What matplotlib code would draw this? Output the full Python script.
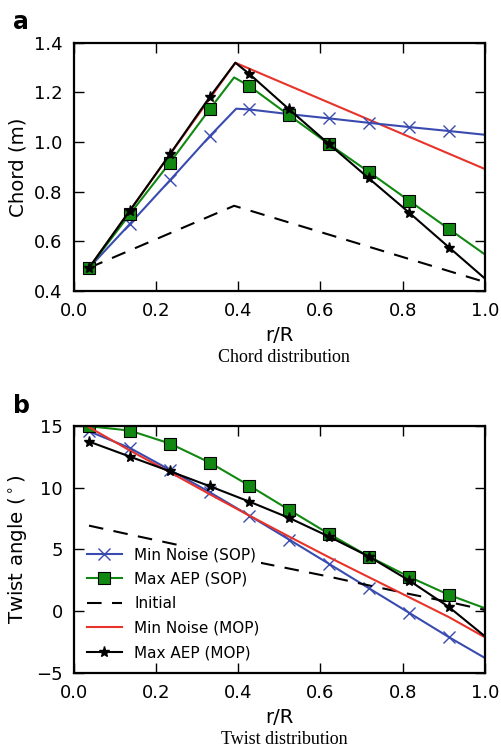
import matplotlib
matplotlib.use("Agg")
import matplotlib.pyplot as plt

# ---------------- data ----------------
r_mark = [0.037, 0.136, 0.234, 0.331, 0.427, 0.524, 0.621, 0.718, 0.816, 0.913]

# chord (m): line knots (root, markers, peak, tip)
chord_minnoise_sop_x = [0.037, 0.136, 0.234, 0.331, 0.395, 0.427, 0.524, 0.621, 0.718, 0.816, 0.913, 1.0]
chord_minnoise_sop = [0.493, 0.669, 0.846, 1.024, 1.134, 1.131, 1.112, 1.095, 1.077, 1.060, 1.044, 1.029]
chord_maxaep_sop_x = [0.037, 0.136, 0.234, 0.331, 0.390, 0.427, 0.524, 0.621, 0.718, 0.816, 0.913, 1.0]
chord_maxaep_sop = [0.493, 0.709, 0.917, 1.133, 1.260, 1.225, 1.107, 0.991, 0.879, 0.763, 0.649, 0.547]
chord_initial_x = [0.037, 0.390, 1.0]
chord_initial = [0.493, 0.743, 0.436]
chord_minnoise_mop_x = [0.037, 0.393, 1.0]
chord_minnoise_mop = [0.493, 1.319, 0.891]
chord_maxaep_mop_x = [0.037, 0.136, 0.234, 0.331, 0.393, 0.427, 0.524, 0.621, 0.718, 0.816, 0.913, 1.0]
chord_maxaep_mop = [0.493, 0.723, 0.951, 1.182, 1.319, 1.274, 1.131, 0.991, 0.853, 0.715, 0.575, 0.450]

# twist (deg)
twist_x = [0.037, 0.136, 0.234, 0.331, 0.427, 0.524, 0.621, 0.718, 0.816, 0.913, 1.0]
twist_minnoise_sop = [14.54, 13.2, 11.42, 9.61, 7.73, 5.79, 3.83, 1.86, -0.13, -2.1, -3.77]
twist_maxaep_sop = [14.95, 14.6, 13.55, 12.01, 10.15, 8.19, 6.25, 4.42, 2.78, 1.32, 0.25]
twist_initial = [6.92, 6.20, 5.50, 4.80, 4.10, 3.45, 2.80, 2.09, 1.40, 0.75, 0.11]
twist_minnoise_mop = [14.87, 13.0, 11.23, 9.45, 7.73, 6.03, 4.36, 2.75, 1.13, -0.48, -2.1]
twist_maxaep_mop = [13.71, 12.5, 11.31, 10.1, 8.86, 7.54, 6.03, 4.42, 2.48, 0.33, -2.02]

labels = ["Min Noise (SOP)", "Max AEP (SOP)", "Initial", "Min Noise (MOP)", "Max AEP (MOP)"]
xticks = [0.0, 0.2, 0.4, 0.6, 0.8, 1.0]

# ---------------- style ----------------
BLUE = "#3a4bb0"
GREEN = "#118811"
RED = "#e8332a"
BLACK = "black"
LW = 1.5
TFS = 13      # tick labels
LFS = 14.2    # axis labels

plt.rcParams['font.family'] = ['DejaVu Sans']

fig = plt.figure(figsize=(5.02, 7.48), dpi=100)
ax1 = fig.add_axes([0.147, 0.611, 0.819, 0.332])
ax2 = fig.add_axes([0.147, 0.100, 0.819, 0.331])


def marks_idx(xs):
    return [i for i, x in enumerate(xs) if any(abs(x - m) < 1e-9 for m in r_mark)]


def style_axes(ax):
    ax.tick_params(direction='in', top=True, right=True, length=7, width=1,
                   labelsize=TFS, pad=8)
    for s in ax.spines.values():
        s.set_linewidth(1.6)
    ax.set_xlim(0, 1.0)
    ax.set_xticks(xticks)
    ax.set_xticklabels([f"{t:.1f}" for t in xticks])


# ---- panel a ----
ax1.plot(chord_initial_x, chord_initial, '--', color=BLACK, lw=LW, dashes=(7, 5))
ax1.plot(chord_minnoise_mop_x, chord_minnoise_mop, '-', color=RED, lw=LW)
ax1.plot(chord_minnoise_sop_x, chord_minnoise_sop, '-', color=BLUE, lw=LW,
         marker='x', ms=8, mew=1.0, markevery=marks_idx(chord_minnoise_sop_x))
ax1.plot(chord_maxaep_sop_x, chord_maxaep_sop, '-', color=GREEN, lw=LW,
         marker='s', ms=8, mfc=GREEN, mec=BLACK, mew=0.8,
         markevery=marks_idx(chord_maxaep_sop_x))
ax1.plot(chord_maxaep_mop_x, chord_maxaep_mop, '-', color=BLACK, lw=LW,
         marker='*', ms=8, markevery=marks_idx(chord_maxaep_mop_x))
style_axes(ax1)
ax1.set_ylim(0.4, 1.4)
ax1.set_yticks([0.4, 0.6, 0.8, 1.0, 1.2, 1.4])
ax1.set_yticklabels(["0.4", "0.6", "0.8", "1.0", "1.2", "1.4"])
ax1.set_xlabel("r/R", fontsize=LFS, labelpad=4)
ax1.set_ylabel("Chord (m)", fontsize=LFS, labelpad=5)

# ---- panel b ----
l1, = ax2.plot(twist_x, twist_minnoise_sop, '-', color=BLUE, lw=LW,
               marker='x', ms=8, mew=1.0)
l2, = ax2.plot(twist_x, twist_maxaep_sop, '-', color=GREEN, lw=LW,
               marker='s', ms=8, mfc=GREEN, mec=BLACK, mew=0.8)
l3, = ax2.plot(twist_x, twist_initial, '--', color=BLACK, lw=LW, dashes=(7, 5))
l4, = ax2.plot(twist_x, twist_minnoise_mop, '-', color=RED, lw=LW)
l5, = ax2.plot(twist_x, twist_maxaep_mop, '-', color=BLACK, lw=LW,
               marker='*', ms=8)
for ln in (l1, l2, l5):
    ln.set_markevery(list(range(len(r_mark))))
style_axes(ax2)
ax2.set_ylim(-5, 15)
ax2.set_yticks([-5, 0, 5, 10, 15])
ax2.set_yticklabels(["\u22125", "0", "5", "10", "15"])
ax2.set_xlabel("r/R", fontsize=LFS, labelpad=4)
ax2.set_ylabel("Twist angle ($^\\circ$)", fontsize=LFS, labelpad=5)
leg = ax2.legend([l1, l2, l3, l4, l5], labels, loc='lower left', frameon=True,
                 fontsize=11, handlelength=2.3, handletextpad=0.8,
                 labelspacing=0.62, bbox_to_anchor=(0.0, 0.0), borderaxespad=0.75,
                 borderpad=0.1, fancybox=False)
leg.get_frame().set_facecolor('white')
leg.get_frame().set_edgecolor('none')
leg.get_frame().set_alpha(1.0)

# ---- captions and panel letters ----
fig.text(0.566, 1 - 357 / 748, "Chord distribution", ha='center', va='center',
         fontsize=13, family='Liberation Serif')
fig.text(0.566, 1 - 739 / 748, "Twist distribution", ha='center', va='center',
         fontsize=13, family='Liberation Serif')
fig.text(0.042, 1 - 22 / 748, "a", ha='center', va='center', fontsize=17,
         fontweight='bold')
fig.text(0.042, 1 - 406 / 748, "b", ha='center', va='center', fontsize=17,
         fontweight='bold')

fig.savefig("out.png", dpi=100)
